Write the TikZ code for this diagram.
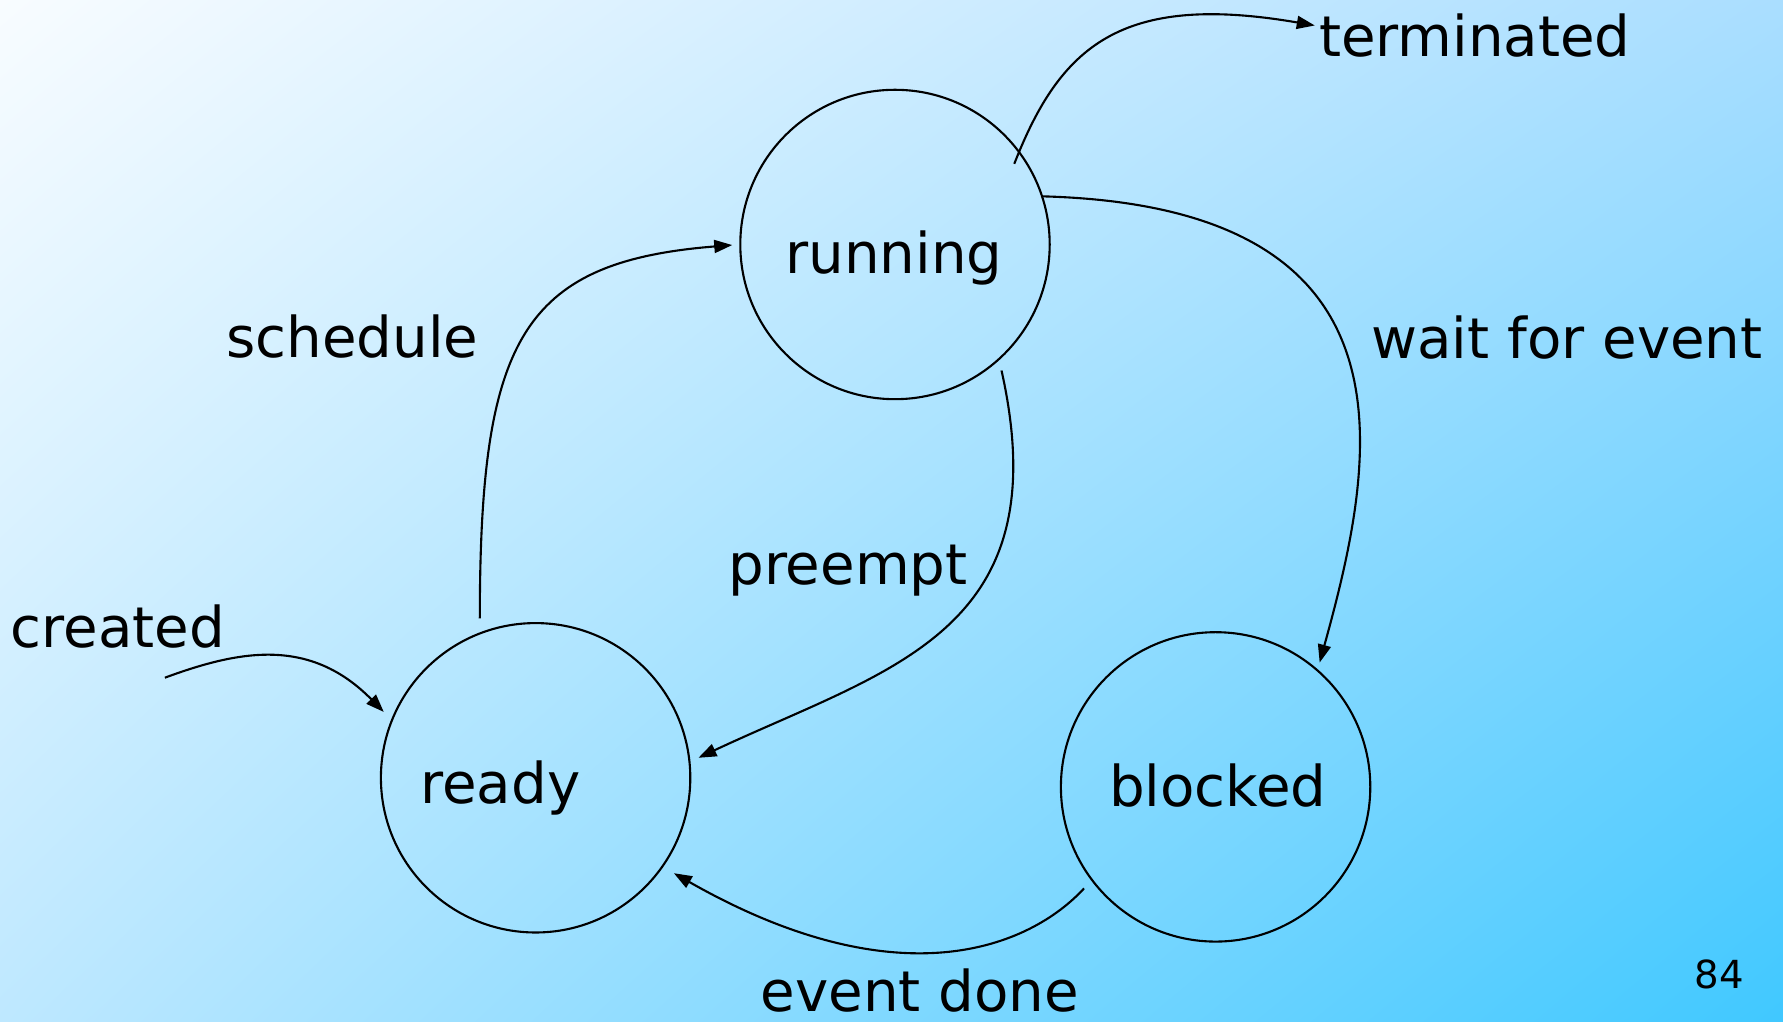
\documentclass[tikz,border=0pt]{standalone}
\usepackage{fontspec}
\setmainfont{DejaVu Sans}
\usepackage{tikz}
\usetikzlibrary{arrows.meta,shadings}
\definecolor{bgUL}{RGB}{248,252,255}
\definecolor{bgUR}{RGB}{170,222,255}
\definecolor{bgLL}{RGB}{190,232,255}
\definecolor{bgLR}{RGB}{64,200,255}
\tikzset{
  pstate/.style={circle, draw, line width=0.6pt, minimum size=3.094cm, inner sep=0pt},
  plabel/.style={font=\fontsize{16}{19}\selectfont, anchor=base, inner sep=1pt},
  ptrans/.style={-{Triangle[length=1.8mm,width=1.3mm]}, line width=0.6pt},
}

\begin{document}
\begin{tikzpicture}
  \shade[use as bounding box, upper left=bgUL, upper right=bgUR, lower left=bgLL, lower right=bgLR]
    (0,0) rectangle (17.83,10.22);
  % states
  \node[pstate] (running) at (8.95,7.775) {};
  \node[pstate] (ready) at (5.356,2.442) {};
  \node[pstate] (blocked) at (12.156,2.351) {};
  \node[plabel] (runningtxt) at (8.94,7.48) {running};
  \node[plabel] (readytxt) at (5.003,2.18) {ready};
  \node[plabel] (blockedtxt) at (12.178,2.15) {blocked};
  % transition labels
  \node[plabel] (schedtxt) at (3.525,6.645) {schedule};
  \node[plabel] (waittxt) at (15.67,6.63) {wait for event};
  \node[plabel] (preempttxt) at (8.48,4.37) {preempt};
  \node[plabel] (createdtxt) at (1.18,3.745) {created};
  \node[plabel] (donetxt) at (9.20,0.1) {event done};
  \node[plabel] (term) at (14.748,9.65) {terminated};
  \node[font=\fontsize{11}{13}\selectfont, anchor=base] (pagenum) at (17.195,0.33) {84};
  \coordinate (src) at (1.649,3.443);
  % transitions
  \draw[ptrans, shorten >=3pt] (src) .. controls (2.4,3.72) and (3.1,3.85) .. (ready.158);
  \draw[ptrans, shorten <=4pt, shorten >=2pt] (ready.111) .. controls (4.8,6.8) and (5.2,7.6) .. (running.west);
  \draw[ptrans, shorten <=-4pt] (running.37) .. controls (10.6,9.75) and (11.2,10.3) .. ([yshift=3pt]term.west);
  \draw[ptrans, shorten >=2pt] (running.18) .. controls (14.3,8.15) and (13.75,5.6) .. (blocked.49);
  \draw[ptrans, shorten <=3pt, shorten >=2.5pt] (running.-48) .. controls (10.6,3.9) and (8.9,3.54) .. (ready.6);
  \draw[ptrans, shorten <=3pt, shorten >=3.5pt] (blocked.217) .. controls (10.3,0.75) and (9.0,0.2) .. (ready.-35);
\end{tikzpicture}
\end{document}
